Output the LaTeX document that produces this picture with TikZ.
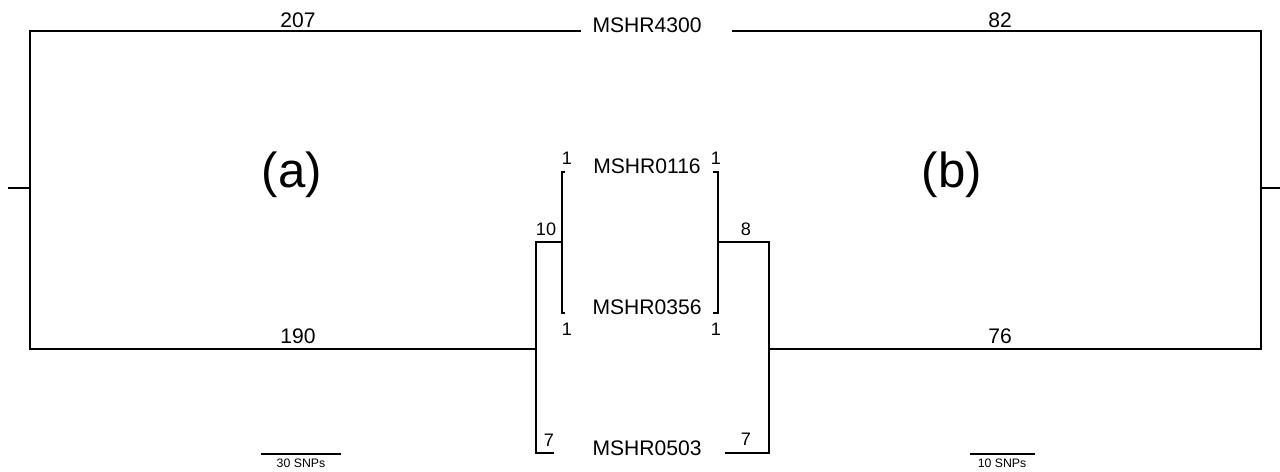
\documentclass[tikz,border=0pt]{standalone}
\usepackage{fontspec}
\setmainfont{Liberation Sans}
\usetikzlibrary{positioning}
\tikzset{
    branch/.style={
        line width=1.15pt,
        line join=miter,
    },
    scalebar/.style={
        line width=0.9pt,
    },
    taxon/.style={
        anchor=base,
        inner sep=0pt,
        font=\fontsize{12}{14}\selectfont,
    },
    len/.style={
        anchor=base,
        inner sep=0pt,
        font=\fontsize{12}{14}\selectfont,
    },
    smalllen/.style={
        anchor=base,
        inner sep=0pt,
        font=\fontsize{10.3}{12}\selectfont,
    },
    panel/.style={
        anchor=base,
        inner sep=0pt,
        font=\fontsize{28}{32}\selectfont,
    },
    barlabel/.style={
        anchor=base,
        inner sep=0pt,
        font=\fontsize{7}{8}\selectfont,
    },
}

\begin{document}
\begin{tikzpicture}[x=0.02cm, y=-0.02cm]
    \useasboundingbox (0,0) rectangle (1280,471);

    % Taxa
    \node[taxon] (t4300) at (647,32) {MSHR4300};
    \node[taxon] (t0116) at (647,173) {MSHR0116};
    \node[taxon] (t0356) at (647,314) {MSHR0356};
    \node[taxon] (t0503) at (647,455) {MSHR0503};

    % Panel labels
    \node[panel] (pa) at (292,187) {(a)};
    \node[panel] (pb) at (952,187) {(b)};

    % Left tree (a)
    \coordinate (aroot) at (8,188);
    \coordinate (a0) at (30,188);
    \coordinate (a4300) at (581,31);
    \coordinate (a1) at (536,349);
    \coordinate (a2) at (562,242);
    \coordinate (a0116) at (565,172);
    \coordinate (a0356) at (565,313);
    \coordinate (a0503) at (554,453);

    \draw[branch] (aroot) -- (a0);
    \draw[branch] (a0) |- (a4300);
    \draw[branch] (a0) |- (a1);
    \draw[branch] (a1) |- (a2);
    \draw[branch] (a1) |- (a0503);
    \draw[branch] (a2) |- (a0116);
    \draw[branch] (a2) |- (a0356);

    % Right tree (b)
    \coordinate (broot) at (1280,188);
    \coordinate (b0) at (1261,188);
    \coordinate (b4300) at (732,31);
    \coordinate (b1) at (769,349);
    \coordinate (b2) at (718,242);
    \coordinate (b0116) at (713,172);
    \coordinate (b0356) at (713,313);
    \coordinate (b0503) at (725,453);

    \draw[branch] (broot) -- (b0);
    \draw[branch] (b0) |- (b4300);
    \draw[branch] (b0) |- (b1);
    \draw[branch] (b1) |- (b2);
    \draw[branch] (b1) |- (b0503);
    \draw[branch] (b2) |- (b0116);
    \draw[branch] (b2) |- (b0356);

    % Branch lengths (a)
    \node[len] (la4300) at (298,27) {207};
    \node[len] (la1) at (298,343) {190};
    \node[smalllen] (la2) at (546,235) {10};
    \node[smalllen] (la0116) at (567,164) {1};
    \node[smalllen] (la0356) at (567,335) {1};
    \node[smalllen] (la0503) at (549,446) {7};

    % Branch lengths (b)
    \node[len] (lb4300) at (1000,27) {82};
    \node[len] (lb1) at (1000,343) {76};
    \node[smalllen] (lb2) at (746,235) {8};
    \node[smalllen] (lb0116) at (716,164) {1};
    \node[smalllen] (lb0356) at (716,335) {1};
    \node[smalllen] (lb0503) at (746,445) {7};

    % Scale bars
    \coordinate (sa1) at (261,454);
    \coordinate (sa2) at (341,454);
    \draw[scalebar] (sa1) -- (sa2);
    \node[barlabel] (sal) at (301,467) {30 SNPs};

    \coordinate (sb1) at (970,454);
    \coordinate (sb2) at (1035,454);
    \draw[scalebar] (sb1) -- (sb2);
    \node[barlabel] (sbl) at (1002,467) {10 SNPs};
\end{tikzpicture}
\end{document}
